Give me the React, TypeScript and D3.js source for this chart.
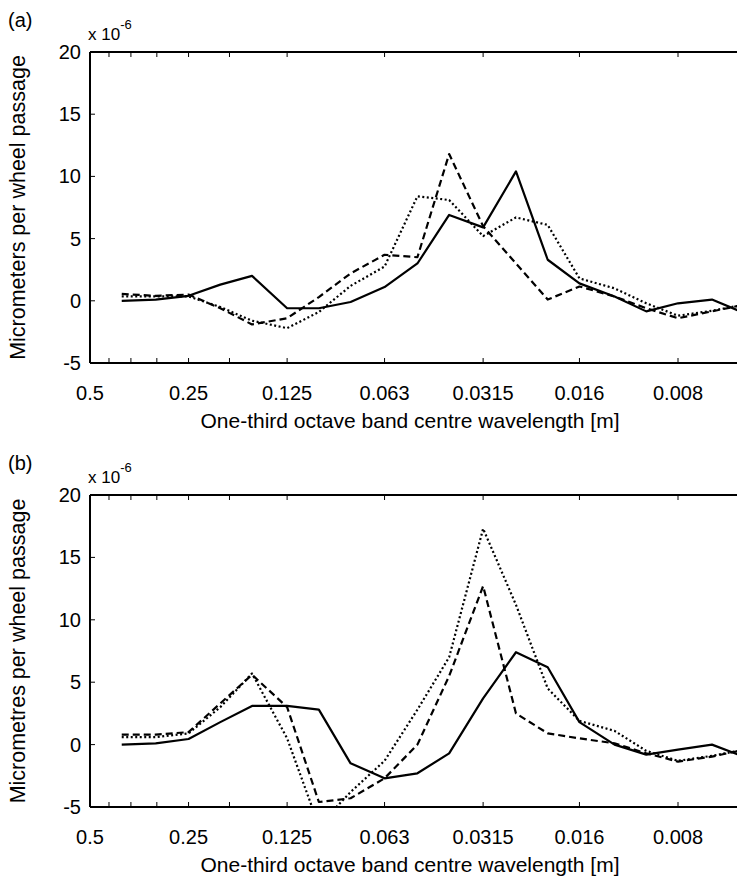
import React from "react";
import * as d3 from "d3";

const width = 737;
const height = 879;

// one-third octave band centre wavelengths [m]
const wavelengths = [
  0.4, 0.315, 0.25, 0.2, 0.16, 0.125, 0.1, 0.08, 0.063, 0.05, 0.04, 0.0315, 0.025, 0.02, 0.016, 0.0125, 0.01,
  0.008, 0.0063, 0.005,
];

const majorTicks = [0.5, 0.25, 0.125, 0.063, 0.0315, 0.016, 0.008];
const majorLabels = ["0.5", "0.25", "0.125", "0.063", "0.0315", "0.016", "0.008"];
const minorTicks = [0.4375, 0.375, 0.3125, 0.1875];
const yTicks = [-5, 0, 5, 10, 15, 20];

// panel (a), x 10^-6
const solidA = [0.0, 0.1, 0.4, 1.3, 2.0, -0.6, -0.6, -0.1, 1.1, 3.0, 6.9, 5.9, 10.4, 3.3, 1.4, 0.35, -0.85, -0.2, 0.1, -1.0];
const dashedA = [0.55, 0.4, 0.5, -0.6, -1.9, -1.4, 0.3, 2.2, 3.7, 3.5, 11.8, 6.0, 3.0, 0.1, 1.15, 0.35, -0.6, -1.4, -0.85, -0.3];
const dottedA = [0.35, 0.35, 0.35, -0.5, -1.6, -2.2, -0.9, 1.2, 2.75, 8.4, 8.1, 5.2, 6.7, 6.1, 1.8, 1.0, -0.2, -1.2, -0.8, -0.3];

// panel (b), x 10^-6
const solidB = [0.0, 0.1, 0.45, 1.8, 3.1, 3.1, 2.8, -1.5, -2.7, -2.3, -0.7, 3.7, 7.4, 6.2, 1.8, 0.0, -0.8, -0.4, 0.0, -1.0];
const dashedB = [0.8, 0.8, 1.0, 3.3, 5.6, 3.0, -4.6, -4.3, -2.7, 0.0, 5.5, 12.7, 2.5, 0.9, 0.5, 0.1, -0.7, -1.36, -0.96, -0.4];
const dottedB = [0.6, 0.6, 0.9, 3.0, 5.7, 0.5, -6.5, -3.8, -1.3, 2.8, 7.0, 17.3, 11.2, 4.5, 1.9, 1.1, -0.5, -1.3, -0.9, -0.4];

const font = "'Liberation Sans', Arial, sans-serif";

const x = d3.scaleLog().domain([0.5, 0.008]).range([90, 678]);

const lineStyles = [
  { dash: null, w: 2.2 },
  { dash: "7 4", w: 2.2 },
  { dash: "2 2.5", w: 2.2 },
];

const Panel = ({ id, tag, ylabel, top, bottom, series }) => {
  const y = d3.scaleLinear().domain([-5, 20]).range([bottom, top]);
  const line = d3
    .line()
    .x((d, i) => x(wavelengths[i]))
    .y((d) => y(d));
  const left = x(0.5);
  const right = width + 20;

  return (
    <g>
      <defs>
        <clipPath id={`clip-${id}`}>
          <rect x={left} y={top} width={right - left} height={bottom - top} />
        </clipPath>
      </defs>

      {/* curves */}
      <g clipPath={`url(#clip-${id})`}>
        {series.map((s, i) => (
          <path
            key={i}
            d={line(s)}
            fill="none"
            stroke="#000"
            strokeWidth={lineStyles[i].w}
            strokeDasharray={lineStyles[i].dash || undefined}
            strokeLinejoin="round"
          />
        ))}
      </g>

      {/* frame */}
      <line x1={left} x2={right} y1={top} y2={top} stroke="#000" strokeWidth={2} />
      <line x1={left} x2={right} y1={bottom} y2={bottom} stroke="#000" strokeWidth={2} />
      <line x1={left} x2={left} y1={top} y2={bottom} stroke="#000" strokeWidth={2} />

      {/* x ticks top and bottom */}
      {[...majorTicks, ...minorTicks].map((t, i) => (
        <g key={i}>
          <line x1={x(t)} x2={x(t)} y1={bottom} y2={bottom - 5} stroke="#000" />
          <line x1={x(t)} x2={x(t)} y1={top} y2={top + 5} stroke="#000" />
        </g>
      ))}
      {majorTicks.map((t, i) => (
        <text key={i} x={x(t)} y={bottom + 37} textAnchor="middle" fontFamily={font} fontSize={20}>
          {majorLabels[i]}
        </text>
      ))}

      {/* y ticks */}
      {yTicks.map((t) => (
        <g key={t}>
          <line x1={left} x2={left + 5} y1={y(t)} y2={y(t)} stroke="#000" />
          <text x={81} y={y(t)} dy="0.35em" textAnchor="end" fontFamily={font} fontSize={20}>
            {t}
          </text>
        </g>
      ))}

      {/* labels */}
      <text x={8} y={top - 25} fontFamily={font} fontSize={20}>
        {tag}
      </text>
      <text x={88} y={top - 12} fontFamily={font} fontSize={17}>
        x 10
        <tspan dy={-11} fontSize={13}>
          -6
        </tspan>
      </text>
      <text
        transform={`translate(25,${(top + bottom) / 2}) rotate(-90)`}
        textAnchor="middle"
        fontFamily={font}
        fontSize={21.5}
      >
        {ylabel}
      </text>
      <text x={410} y={bottom + 65} textAnchor="middle" fontFamily={font} fontSize={21}>
        One-third octave band centre wavelength [m]
      </text>
    </g>
  );
};

export default function App() {
  return (
    <svg
      width={width}
      height={height}
      style={{ position: "absolute", left: 0, top: 0, background: "#fff" }}
    >
      <Panel
        id="a"
        tag="(a)"
        ylabel="Micrometers per wheel passage"
        top={52}
        bottom={363}
        series={[solidA, dashedA, dottedA]}
      />
      <Panel
        id="b"
        tag="(b)"
        ylabel="Micrometres per wheel passage"
        top={495}
        bottom={807}
        series={[solidB, dashedB, dottedB]}
      />
    </svg>
  );
}
